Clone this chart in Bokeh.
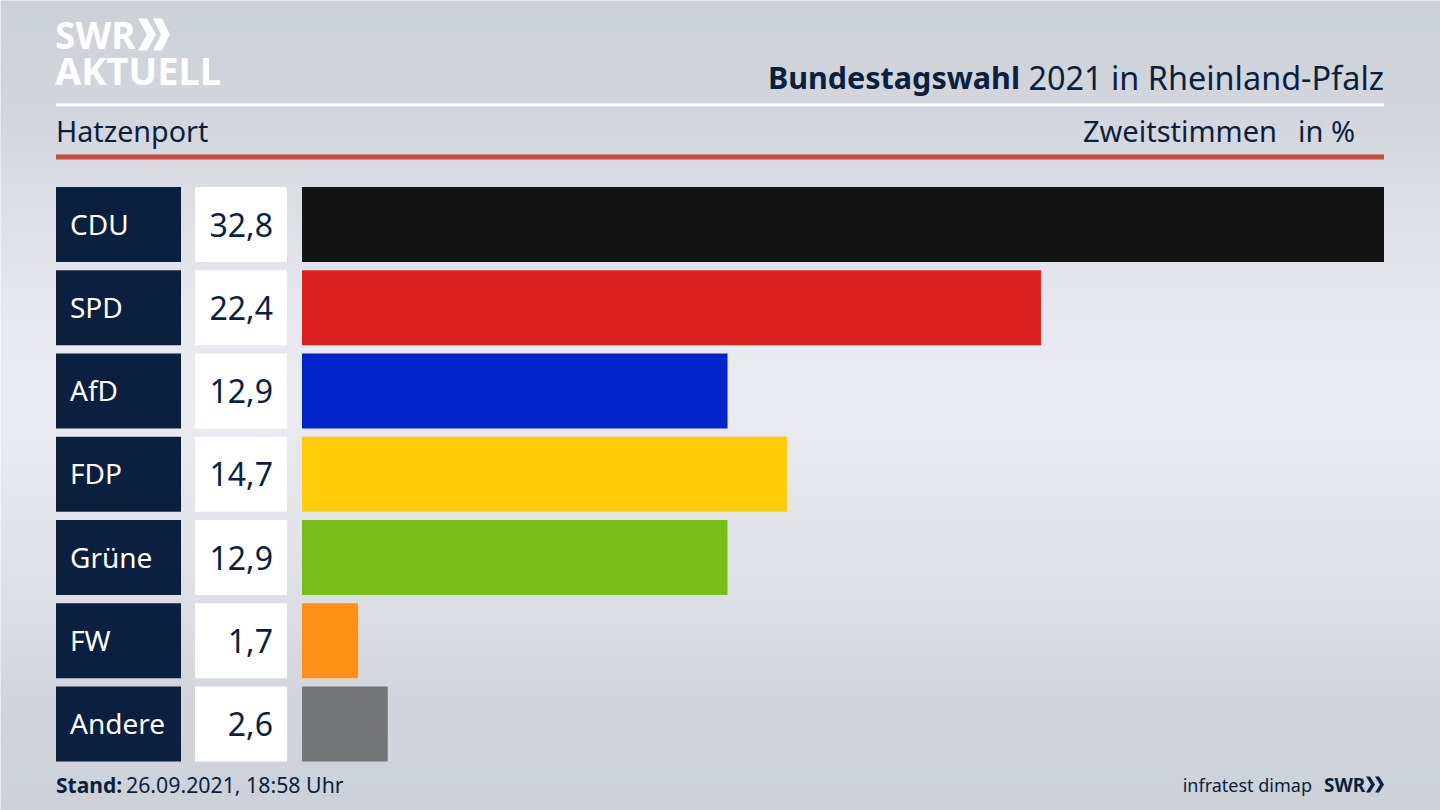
from bokeh.plotting import figure
from bokeh.models import Range1d, ColumnDataSource
from bokeh.core.properties import value
from bokeh.embed import file_html
from bokeh.resources import INLINE

parties = ["CDU", "SPD", "AfD", "FDP", "Grüne", "FW", "Andere"]
values = [32.8, 22.4, 12.9, 14.7, 12.9, 1.7, 2.6]
colors = ["#141414", "#db1f1f", "#0022c8", "#ffcc0a", "#79bd1a", "#ff9015", "#747577"]
region = "Hatzenport"
title_bold = "Bundestagswahl"
title_rest = "2021 in Rheinland-Pfalz"
vote_type = "Zweitstimmen"
unit = "in %"
stand_bold = "Stand:"
stand_rest = "26.09.2021, 18:58 Uhr"
source = "infratest dimap"

NAVY = "#0b1f3f"
FONT = value("Noto Sans")
OFFX, OFFY = 0.5, 1

BAR_X0, BAR_X1 = 302, 1384
k = (BAR_X1 - BAR_X0) / max(values)
x_range = Range1d((OFFX - BAR_X0) / k, (1440 + OFFX - BAR_X0) / k)
ROW0, PITCH = 225.0, 83.25
y_range = Range1d((810 + OFFY - ROW0) / PITCH, (OFFY - ROW0) / PITCH)

p = figure(width=1440, height=810, x_range=x_range, y_range=y_range,
           output_backend="svg", toolbar_location=None, min_border=0,
           x_axis_type=None, y_axis_type=None, outline_line_color=None)
p.grid.visible = False
p.extra_x_ranges["px"] = Range1d(OFFX, 1440 + OFFX)
p.extra_y_ranges["py"] = Range1d(810 + OFFY, OFFY)
PX = dict(x_range_name="px", y_range_name="py")

# background gradient
stops = [(0, (204, 208, 215)), (130, (212, 215, 222)), (300, (231, 232, 238)), (420, (234, 235, 240)),
         (560, (224, 226, 232)), (700, (210, 213, 220)), (815, (204, 208, 215))]
def col(y):
    for (a, ca), (b, cb) in zip(stops, stops[1:]):
        if a <= y <= b:
            t = (y - a) / (b - a)
            return "#%02x%02x%02x" % tuple(round(u + (v - u) * t) for u, v in zip(ca, cb))
    return "#cccfd7"
ys = list(range(-6, 816, 6))
p.quad(left=-5, right=1445, bottom=[y + 6.5 for y in ys], top=ys,
       color=[col(max(y, 0)) for y in ys], line_color=None, **PX)

# rules
p.quad(left=56, right=1384, top=104, bottom=107, color="#ffffff", line_color=None, **PX)
p.quad(left=56, right=1384, top=155, bottom=160, color="#cd4a3a", line_color=None, **PX)

rows = list(range(len(parties)))
src = ColumnDataSource(dict(
    row=rows, party=parties, value=values, color=colors,
    label=[f"{v:.1f}".replace(".", ",") for v in values]))

H = 75 / PITCH
p.hbar(y="row", left=0, right="value", height=H, color="color", line_color=None, source=src)

p.hbar(y="row", left=56, right=181, height=H, color=NAVY, line_color=None, source=src, x_range_name="px")
p.hbar(y="row", left=195, right=287, height=H, color="#ffffff", line_color=None, source=src, x_range_name="px")
p.text(x=70, y="row", text="party", source=src, text_color="#ffffff", text_font=FONT,
       text_font_size="28px", text_baseline="middle", y_offset=-1, x_range_name="px")
p.text(x=273, y="row", text="label", source=src, text_color=NAVY, text_font=FONT,
       text_font_size="32px", text_baseline="middle", text_align="right", x_range_name="px")

def txt(x, y, s, size, color=NAVY, align="left", style="normal"):
    p.text(x=[x], y=[y], text=[s], text_color=color, text_font=FONT, text_font_size=f"{size}px",
           text_baseline="middle", text_align=align, text_font_style=style, **PX)

txt(56, 131, region, 28.7)
txt(1277, 131, vote_type, 29, align="right")
txt(1355, 131, unit, 29, align="right")
txt(1020, 77, title_bold, 30.5, align="right", style="bold")
txt(1384, 77, title_rest, 32.4, align="right")
txt(56, 785, stand_bold, 21, style="bold")
txt(126, 785, stand_rest, 21.3)
txt(1312, 785, source, 18, align="right")
txt(1324, 785, "SWR", 19, style="bold")

# logo
txt(55, 35, "SWR", 37, color="#ffffff", style="bold")
txt(55, 70, "AKTUELL", 38, color="#ffffff", style="bold")
def chevron(x, y, w, h, t, color):
    return ([x, x + t, x + w + t, x + t, x, x + w], [y - h, y - h, y, y + h, y + h, y], color)
cx, cy, cc = [], [], []
for x, y, w, h, t, c in [(138, 35, 9, 16, 9, "#ffffff"), (153, 35, 8, 16, 9, "#ffffff"),
                         (1366, 785, 5, 8, 4, NAVY), (1375, 785, 5, 8, 4, NAVY)]:
    a, b, d = chevron(x, y, w, h, t, c)
    cx.append(a); cy.append(b); cc.append(d)
p.patches(cx, cy, color=cc, line_color=None, **PX)

open("out.html", "w").write(file_html(p, INLINE))
